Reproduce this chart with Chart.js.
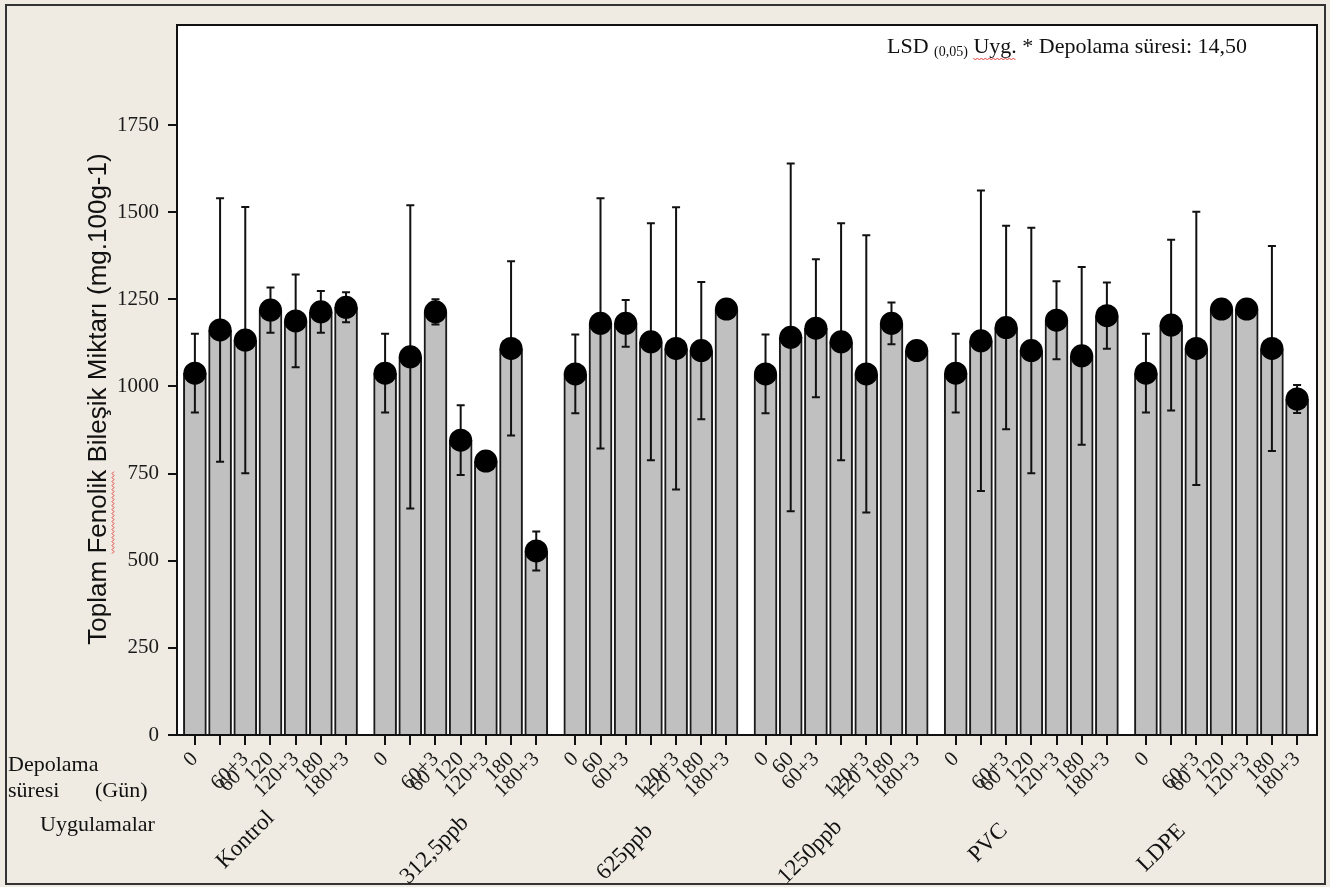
<!DOCTYPE html>
<html lang="tr">
<head>
<meta charset="UTF-8">
<title>Toplam Fenolik Bileşik Miktarı</title>
<script src="https://cdn.jsdelivr.net/npm/chart.js@4.4.1/dist/chart.umd.min.js"></script>
<style>
    html, body { margin: 0; padding: 0; background: #efebe2; }
    #wrap { width: 1330px; height: 887px; }
</style>
</head>
<body>
<div id="wrap"><canvas id="chart" width="1330" height="887"></canvas></div>
<script>
    // uygulamalar ve depolama süreleri
    const groups = ['Kontrol', '312,5ppb', '625ppb', '1250ppb', 'PVC', 'LDPE'];
    const days = ['0', '60', '60+3', '120', '120+3', '180', '180+3'];

    // ortalamalar (mg.100g-1)
    const kontrol   = [1038, 1162, 1133, 1219, 1188, 1214, 1227];
    const ppb312    = [1038, 1085, 1214,  846,  786, 1109,  528];
    const ppb625    = [1036, 1181, 1181, 1128, 1109, 1103, 1222];
    const ppb1250   = [1036, 1141, 1167, 1128, 1036, 1181, 1103];
    const pvc       = [1038, 1131, 1169, 1103, 1190, 1088, 1203];
    const ldpe      = [1038, 1176, 1109, 1222, 1222, 1109,  964];

    // hata çubukları (+/-)
    const kontrolErr = [113, 378, 382,  65, 133,  60,  43];
    const ppb312Err  = [113, 435,  36, 100,   0, 250,  56];
    const ppb625Err  = [113, 359,  67, 340, 405, 197,   0];
    const ppb1250Err = [113, 499, 198, 340, 398,  60,   0];
    const pvcErr     = [113, 431, 292, 352, 112, 255,  95];
    const ldpeErr    = [113, 245, 392,   0,   0, 294,  40];

    const yTicks = [0, 250, 500, 750, 1000, 1250, 1500, 1750];
    const yTitle = 'Toplam Fenolik Bileşik Miktarı (mg.100g-1)';
    const lsdText = 'LSD';
    const lsdSub = '(0,05)';
    const lsdRest = ' Uyg. * Depolama süresi: 14,50';

    const means = [kontrol, ppb312, ppb625, ppb1250, pvc, ldpe];
    const errs = [kontrolErr, ppb312Err, ppb625Err, ppb1250Err, pvcErr, ldpeErr];

    // yerleşim
    const GROUP_STEP = 7.55;
    const secondLine = [[1], [1], [3], [3], [1], [1]];
    const groupLabelPos = [[-25, 840], [-26, 850], [-26, 852], [-31, 852], [-43, 843], [-60, 848]];
    const SERIF = '"Liberation Serif", "Times New Roman", serif';

    const xs = [], barData = [], dotData = [], errData = [], tickLabels = [];
    means.forEach((vals, g) => {
        vals.forEach((v, i) => {
            const x = g * GROUP_STEP + i;
            xs.push(x);
            barData.push({ x: x, y: v });
            dotData.push({ x: x, y: v });
            errData.push({ x: x, y: v, e: errs[g][i] });
            tickLabels.push(secondLine[g].includes(i) ? ['', days[i]] : days[i]);
        });
    });

    function squiggle(ctx, x0, y0, w) {
        ctx.save();
        ctx.strokeStyle = '#e0403a';
        ctx.lineWidth = 1;
        ctx.beginPath();
        for (let x = 0; x <= w; x += 2) {
            const y = y0 + ((x / 2) % 2 === 0 ? 0 : 2);
            if (x === 0) ctx.moveTo(x0 + x, y); else ctx.lineTo(x0 + x, y);
        }
        ctx.stroke();
        ctx.restore();
    }

    const decor = {
        id: 'decor',
        beforeDraw(chart) {
            const { ctx, chartArea: a } = chart;
            ctx.save();
            ctx.fillStyle = '#efebe2';
            ctx.fillRect(0, 0, chart.width, chart.height);
            ctx.fillStyle = '#ffffff';
            ctx.fillRect(a.left, a.top, a.right - a.left, a.bottom - a.top);
            ctx.restore();
        },
        afterDatasetDraw(chart, args) {
            if (args.index !== 0) return;
            const { ctx } = chart;
            const xScale = chart.scales.x, yScale = chart.scales.y;
            ctx.save();
            ctx.strokeStyle = '#111';
            ctx.lineWidth = 2;
            errData.forEach(d => {
                if (!d.e) return;
                const px = xScale.getPixelForValue(d.x);
                const top = yScale.getPixelForValue(d.y + d.e);
                const bot = yScale.getPixelForValue(d.y - d.e);
                ctx.beginPath();
                ctx.moveTo(px, top); ctx.lineTo(px, bot);
                ctx.moveTo(px - 4, top); ctx.lineTo(px + 4, top);
                ctx.moveTo(px - 4, bot); ctx.lineTo(px + 4, bot);
                ctx.stroke();
            });
            ctx.restore();
        },
        afterDraw(chart) {
            const { ctx, chartArea: a } = chart;
            const xScale = chart.scales.x;
            ctx.save();

            // çerçeveler
            ctx.strokeStyle = '#111';
            ctx.lineWidth = 2;
            ctx.strokeRect(a.left, a.top, a.right - a.left, a.bottom - a.top);
            ctx.strokeStyle = '#333';
            ctx.strokeRect(6, 5, 1319, 879);

            // y ekseni başlığı
            ctx.save();
            ctx.translate(99, 399);
            ctx.rotate(-Math.PI / 2);
            ctx.font = '26px "Liberation Sans", Arial, sans-serif';
            ctx.fillStyle = '#111';
            ctx.textAlign = 'center';
            ctx.textBaseline = 'middle';
            ctx.fillText(yTitle, 0, 0);
            const full = ctx.measureText(yTitle).width;
            const s = -full / 2 + ctx.measureText('Toplam ').width;
            squiggle(ctx, s, 13, ctx.measureText('Fenolik').width);
            ctx.restore();

            // LSD notu
            ctx.fillStyle = '#111';
            ctx.textBaseline = 'alphabetic';
            ctx.textAlign = 'left';
            ctx.font = '22px ' + SERIF;
            let x = 887;
            ctx.fillText(lsdText + ' ', x, 53);
            x += ctx.measureText(lsdText + ' ').width;
            ctx.font = '14px ' + SERIF;
            ctx.fillText(lsdSub, x, 56);
            x += ctx.measureText(lsdSub).width;
            ctx.font = '22px ' + SERIF;
            ctx.fillText(lsdRest, x, 53);
            const uStart = x + ctx.measureText(' ').width;
            squiggle(ctx, uStart, 58, ctx.measureText('Uyg.').width);

            // sol etiketler
            ctx.font = '22px ' + SERIF;
            ctx.fillText('Depolama', 8, 771);
            ctx.fillText('süresi', 8, 797);
            ctx.fillText('(Gün)', 95, 797);
            ctx.fillText('Uygulamalar', 40, 831);

            // uygulama adları
            ctx.font = '23px ' + SERIF;
            ctx.textAlign = 'center';
            ctx.textBaseline = 'middle';
            groups.forEach((name, g) => {
                const cx = xScale.getPixelForValue(g * GROUP_STEP + 3) + groupLabelPos[g][0];
                ctx.save();
                ctx.translate(cx, groupLabelPos[g][1]);
                ctx.rotate(-Math.PI / 4);
                ctx.fillText(name, 0, 0);
                ctx.restore();
            });
            ctx.restore();
        }
    };

    new Chart(document.getElementById('chart'), {
        type: 'bar',
        data: {
            datasets: [
                {
                    type: 'bar',
                    data: barData,
                    backgroundColor: '#c0c0c0',
                    borderColor: '#1a1a1a',
                    borderWidth: 2,
                    barThickness: 23,
                    order: 2
                },
                {
                    type: 'scatter',
                    data: dotData,
                    backgroundColor: '#000',
                    borderWidth: 0,
                    pointRadius: 11.5,
                    order: 1
                }
            ]
        },
        options: {
            responsive: false,
            animation: false,
            devicePixelRatio: 1,
            layout: { padding: { left: 0, top: 25, right: 13, bottom: 0 } },
            plugins: { legend: { display: false }, tooltip: { enabled: false } },
            scales: {
                x: {
                    type: 'linear',
                    offset: false,
                    min: -0.71,
                    max: 44.54,
                    afterBuildTicks: scale => { scale.ticks = xs.map(v => ({ value: v })); },
                    afterFit: scale => { scale.height = 152; },
                    grid: { offset: false, drawOnChartArea: false, color: '#111', lineWidth: 2, tickLength: 10 },
                    border: { display: true, color: '#111', width: 2 },
                    ticks: {
                        autoSkip: false,
                        minRotation: 45,
                        maxRotation: 45,
                        padding: 2,
                        color: '#1a1a1a',
                        font: { family: SERIF, size: 21 },
                        callback: (value, index) => tickLabels[index]
                    }
                },
                y: {
                    min: 0,
                    max: 2037,
                    afterBuildTicks: scale => { scale.ticks = yTicks.map(v => ({ value: v })); },
                    afterFit: scale => { scale.width = 177; },
                    grid: { drawOnChartArea: false, color: '#111', lineWidth: 2, tickLength: 9 },
                    border: { display: true, color: '#111', width: 2 },
                    ticks: {
                        padding: 9,
                        color: '#1a1a1a',
                        font: { family: SERIF, size: 21 },
                        callback: value => String(value)
                    }
                }
            }
        },
        plugins: [decor]
    });
</script>
</body>
</html>
